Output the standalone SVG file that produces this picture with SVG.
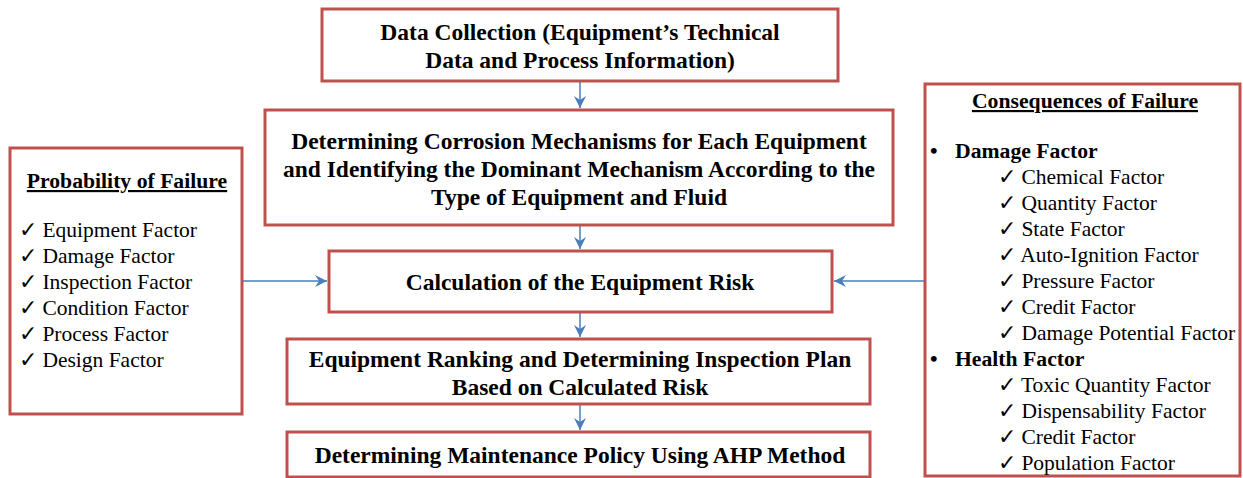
<svg xmlns="http://www.w3.org/2000/svg" width="1243" height="478" viewBox="0 0 1243 478">
<style>
.box{fill:#fff;stroke:#c0504d;stroke-width:3}
.b{font-family:"Liberation Serif",serif;font-weight:bold;font-size:23.5px;fill:#000;text-anchor:middle}
.h{font-family:"Liberation Serif",serif;font-weight:bold;font-size:21.7px;fill:#000}
.r{font-family:"Liberation Serif",serif;font-size:21.5px;fill:#000}
.c{stroke:#4a7ebb;stroke-width:1.5;fill:none}
</style>
<defs>
<marker id="ah" markerWidth="14" markerHeight="12" refX="12" refY="6" orient="auto" markerUnits="userSpaceOnUse">
<path d="M0,0 L12,6 L0,12 L4,6 Z" fill="#4a7ebb"/>
</marker>
</defs>
<rect width="1243" height="478" fill="#fff"/>
<g id="connectors">
<line class="c" x1="580" y1="82" x2="580" y2="108" marker-end="url(#ah)"/>
<line class="c" x1="580" y1="226" x2="580" y2="249" marker-end="url(#ah)"/>
<line class="c" x1="580" y1="313" x2="580" y2="337" marker-end="url(#ah)"/>
<line class="c" x1="580" y1="405" x2="580" y2="430" marker-end="url(#ah)"/>
<line class="c" x1="242" y1="281" x2="327" y2="281" marker-end="url(#ah)"/>
<line class="c" x1="925" y1="281" x2="834" y2="281" marker-end="url(#ah)"/>
</g>
<g id="n1">
<rect class="box" x="322" y="9" width="516" height="72"/>
<text class="b" x="580" y="40">Data Collection (Equipment’s Technical</text>
<text class="b" x="580" y="68">Data and Process Information)</text>
</g>
<g id="n2">
<rect class="box" x="265" y="110" width="628" height="115"/>
<text class="b" x="579" y="149">Determining Corrosion Mechanisms for Each Equipment</text>
<text class="b" x="579" y="177">and Identifying the Dominant Mechanism According to the</text>
<text class="b" x="579" y="205">Type of Equipment and Fluid</text>
</g>
<g id="n3">
<rect class="box" x="329" y="251" width="503" height="61"/>
<text class="b" x="580" y="290">Calculation of the Equipment Risk</text>
</g>
<g id="n4">
<rect class="box" x="287" y="339" width="583" height="65"/>
<text class="b" x="580" y="367">Equipment Ranking and Determining Inspection Plan</text>
<text class="b" x="580" y="395">Based on Calculated Risk</text>
</g>
<g id="n5">
<rect class="box" x="287" y="432" width="583" height="45"/>
<text class="b" x="580" y="463">Determining Maintenance Policy Using AHP Method</text>
</g>
<g id="pof">
<rect class="box" x="10" y="148" width="232" height="266"/>
<text class="h" x="127" y="188" text-anchor="middle" text-decoration="underline">Probability of Failure</text>
<text class="r" x="19" y="237">✓ Equipment Factor</text>
<text class="r" x="19" y="263">✓ Damage Factor</text>
<text class="r" x="19" y="289">✓ Inspection Factor</text>
<text class="r" x="19" y="315">✓ Condition Factor</text>
<text class="r" x="19" y="341">✓ Process Factor</text>
<text class="r" x="19" y="367">✓ Design Factor</text>
</g>
<g id="cof">
<rect class="box" x="925" y="84" width="315" height="392"/>
<text class="h" x="1085" y="108" text-anchor="middle" text-decoration="underline">Consequences of Failure</text>
<text class="h" x="930" y="158">•</text>
<text class="h" x="955" y="158">Damage Factor</text>
<text class="r" x="998" y="184">✓ Chemical Factor</text>
<text class="r" x="998" y="210">✓ Quantity Factor</text>
<text class="r" x="998" y="236">✓ State Factor</text>
<text class="r" x="998" y="262">✓ Auto-Ignition Factor</text>
<text class="r" x="998" y="288">✓ Pressure Factor</text>
<text class="r" x="998" y="314">✓ Credit Factor</text>
<text class="r" x="998" y="340">✓ Damage Potential Factor</text>
<text class="h" x="930" y="366">•</text>
<text class="h" x="955" y="366">Health Factor</text>
<text class="r" x="998" y="392">✓ Toxic Quantity Factor</text>
<text class="r" x="998" y="418">✓ Dispensability Factor</text>
<text class="r" x="998" y="444">✓ Credit Factor</text>
<text class="r" x="998" y="470">✓ Population Factor</text>
</g>
</svg>
